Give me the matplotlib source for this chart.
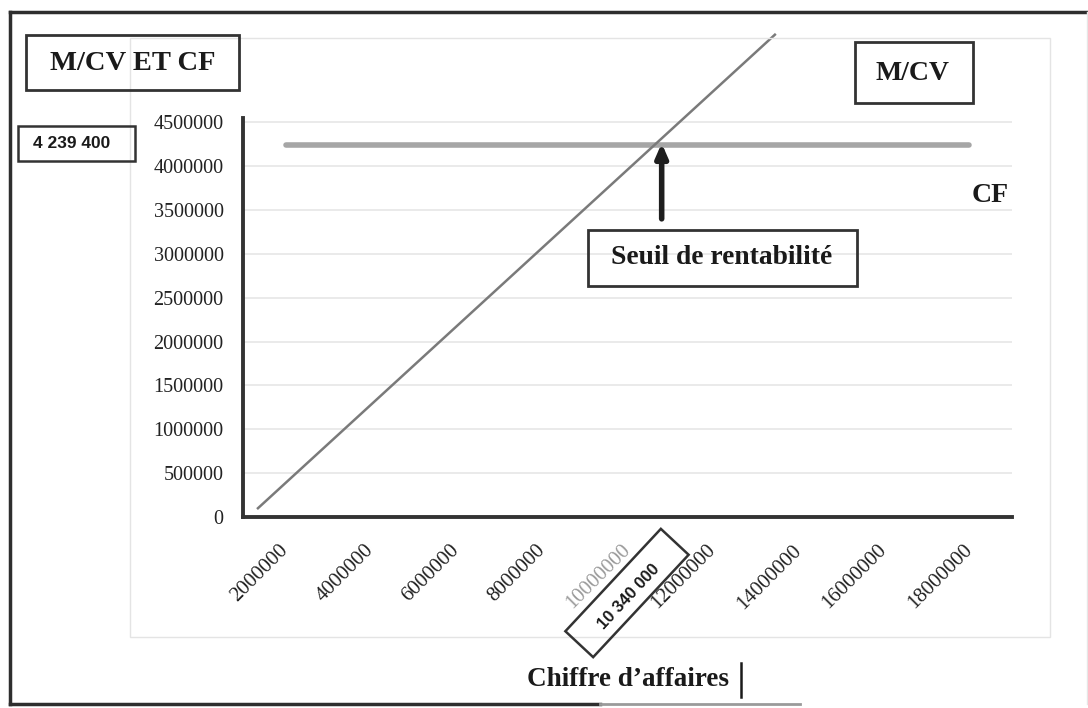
import numpy as np
import matplotlib
matplotlib.use("Agg")
import matplotlib.pyplot as plt
from matplotlib.patches import Rectangle, Polygon
from matplotlib.lines import Line2D

# ---- data ----
categories = [2000000, 4000000, 6000000, 8000000, 10000000,
              12000000, 14000000, 16000000, 18000000]
x_labels = [str(c) for c in categories]
cf_values = [4239400] * 9
mcv_x = [1350000, 13450000]
mcv_y = [100000, 5500000]
y_ticks = [0, 500000, 1000000, 1500000, 2000000, 2500000,
           3000000, 3500000, 4000000, 4500000]
seuil_ca = "10 340 000"
seuil_cf = "4 239 400"
arrow_x = 10800000
arrow_from = 3400000
arrow_to = 4262000

W, H = 1088, 708
fig = plt.figure(figsize=(W / 100, H / 100), dpi=100)

def fx(px):
    return px / W

def fy(py):
    return 1 - py / H

serif = ['Liberation Serif', 'DejaVu Serif']
narrow = ['Liberation Sans Narrow', 'Liberation Sans', 'DejaVu Sans']

# outer frame
dark = '#2e2e2e'
fig.add_artist(Line2D([fx(10), fx(1088)], [fy(12), fy(12)], color=dark, lw=2.5))
fig.add_artist(Line2D([fx(10), fx(10)], [fy(12), fy(704)], color=dark, lw=2.5))
fig.add_artist(Line2D([fx(10), fx(600)], [fy(704), fy(704)], color=dark, lw=2.5))
fig.add_artist(Line2D([fx(600), fx(800)], [fy(704), fy(704)], color='#9a9a9a', lw=2))
fig.add_artist(Line2D([fx(1087), fx(1087)], [fy(12), fy(704)], color='#e6e6e6', lw=1))
# faint chart area border
fig.add_artist(Rectangle((fx(130), fy(637)), fx(1050) - fx(130), fy(38) - fy(637),
                         transform=fig.transFigure, fill=False, ec='#e4e4e4', lw=1))

# axes
ax = fig.add_axes([fx(243), fy(517), fx(1012) - fx(243), fy(118) - fy(517)])
ax.set_xlim(1000000, 19000000)
ax.set_ylim(0, 4550000)
for s in ['top', 'right']:
    ax.spines[s].set_visible(False)
for s in ['left', 'bottom']:
    ax.spines[s].set_color('#333333')
    ax.spines[s].set_linewidth(2.8)
ax.set_yticks(y_ticks)
ax.set_yticklabels([str(v) for v in y_ticks], fontfamily=serif, fontsize=14.5, color='#222222')
ax.set_xticks(categories)
ax.set_xticklabels(x_labels, rotation=45, ha='right', va='center', rotation_mode='anchor',
                   fontfamily=serif, fontsize=15, color='#222222')
ax.get_xticklabels()[4].set_color('#9a9a9a')
ax.tick_params(axis='y', length=0, pad=14)
ax.tick_params(axis='x', length=0, pad=22)
ax.grid(axis='y', color='#e6e6e6', lw=1.2)
ax.set_axisbelow(True)

ax.plot(categories, cf_values, color='#a6a6a6', lw=4, solid_capstyle='round', zorder=3)
ax.plot(mcv_x, mcv_y, color='#7a7a7a', lw=1.8, clip_on=False, zorder=4)

ax.annotate('', xy=(arrow_x, arrow_to), xytext=(arrow_x, arrow_from),
            arrowprops=dict(arrowstyle='-|>,head_width=0.35,head_length=0.8',
                            color='#1e1e1e', lw=4, shrinkA=0, shrinkB=0), zorder=5)

# boxes with text
def box(x0, y0, x1, y1, lw=2):
    fig.add_artist(Rectangle((fx(x0), fy(y1)), fx(x1) - fx(x0), fy(y0) - fy(y1),
                             transform=fig.transFigure, fill=False, ec='#333333', lw=lw))

box(26, 35, 239, 90)
fig.text(fx(133), fy(63), 'M/CV ET CF', fontfamily=serif, fontweight='bold', fontsize=20.5,
         ha='center', va='center', color='#1a1a1a')
box(18, 126, 135, 161, lw=1.8)
fig.text(fx(72), fy(143), seuil_cf, fontfamily=narrow, fontweight='bold', fontsize=12.5,
         ha='center', va='center', color='#1a1a1a')
box(855, 42, 973, 103)
fig.text(fx(913), fy(73), 'M/CV', fontfamily=serif, fontweight='bold', fontsize=20,
         ha='center', va='center', color='#1a1a1a')
box(588, 230, 857, 286)
fig.text(fx(722), fy(257), 'Seuil de rentabilité', fontfamily=serif, fontweight='bold',
         fontsize=19.8, ha='center', va='center', color='#1a1a1a')
fig.text(fx(990), fy(195), 'CF', fontfamily=serif, fontweight='bold', fontsize=20,
         ha='center', va='center', color='#1a1a1a')
fig.text(fx(628), fy(680), 'Chiffre d’affaires', fontfamily=serif, fontweight='bold',
         fontsize=19.5, ha='center', va='center', color='#1a1a1a')
fig.add_artist(Line2D([fx(741), fx(741)], [fy(663), fy(697)], color='#1a1a1a', lw=1.8))

# rotated box for break-even revenue
cx, cy, L, Wd, ang = 627, 593, 140, 38, np.deg2rad(47)
u = np.array([np.cos(ang), -np.sin(ang)])
v = np.array([np.sin(ang), np.cos(ang)])
c = np.array([cx, cy])
corners = [c - u * L / 2 - v * Wd / 2, c + u * L / 2 - v * Wd / 2,
           c + u * L / 2 + v * Wd / 2, c - u * L / 2 + v * Wd / 2]
fig.add_artist(Polygon([(fx(p[0]), fy(p[1])) for p in corners], closed=True,
                       transform=fig.transFigure, fill=False, ec='#333333', lw=1.8))
fig.text(fx(629), fy(597), seuil_ca, fontfamily=narrow, fontweight='bold', fontsize=12,
         rotation=47, ha='center', va='center', rotation_mode='anchor', color='#1a1a1a')

fig.savefig('out.png', dpi=100, facecolor='white')
